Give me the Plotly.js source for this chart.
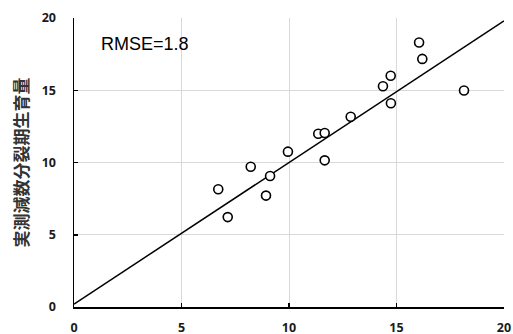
<!DOCTYPE html>
<html>
<head>
<meta charset="utf-8">
<script src="https://cdn.plot.ly/plotly-3.0.1.min.js"></script>
<style>html,body{margin:0;padding:0;background:#fff;}#chart{width:513px;height:334px;}</style>
</head>
<body>
<div id="chart"></div>
<script>
// Predicted (x) vs observed (y) growth at meiosis stage
const predicted = [16.05, 16.2, 14.73, 14.37, 18.14, 14.74, 12.87, 11.36, 11.66, 9.95, 11.66, 8.22, 9.12, 8.93, 6.71, 7.15];
const observed  = [18.3, 17.17, 16.0, 15.28, 14.98, 14.1, 13.17, 11.99, 12.04, 10.75, 10.15, 9.71, 9.07, 7.71, 8.15, 6.22];
const fitX = [0, 20];
const fitY = [0.2, 19.8];
const tickVals = [0, 5, 10, 15, 20];
const tickText = ['0', '5', '10', '15', '20'];
const yTitle = '実測減数分裂期生育量';
const rmseText = 'RMSE=1.8';

const tickFont = {family: '"Noto Sans", "Liberation Sans", sans-serif', size: 12.5, color: '#1a1a1a', weight: 'bold'};

const traces = [
  {x: fitX, y: fitY, mode: 'lines', type: 'scatter', line: {color: '#000', width: 1.5}, hoverinfo: 'skip'},
  {x: predicted, y: observed, mode: 'markers', type: 'scatter',
   marker: {symbol: 'circle', size: 9, color: '#fff', line: {color: '#000', width: 1.6}}}
];

const axisBase = {
  range: [0, 20], tickvals: tickVals, ticktext: tickText,
  showgrid: true, gridcolor: '#d9d9d9', gridwidth: 1,
  zeroline: false, showline: true, linecolor: '#000', linewidth: 1.5,
  ticks: 'inside', ticklen: 4, tickcolor: '#000', tickwidth: 1.5,
  tickfont: tickFont, fixedrange: true
};

const layout = {
  width: 513, height: 334,
  margin: {l: 74, r: 9, t: 18, b: 27},
  paper_bgcolor: '#fff', plot_bgcolor: '#fff',
  showlegend: false,
  xaxis: Object.assign({}, axisBase, {ticklabelstandoff: 8}),
  yaxis: Object.assign({}, axisBase, {ticklabelstandoff: 14}),
  annotations: [
    {text: rmseText, xref: 'x', yref: 'y', x: 1.15, y: 18.2, xanchor: 'left', yanchor: 'middle',
     showarrow: false, font: {family: '"Liberation Sans", Arial, sans-serif', size: 18, color: '#000'}},
    {text: yTitle, xref: 'paper', yref: 'paper', x: 0, y: 0.5, xanchor: 'center', yanchor: 'middle',
     xshift: -54, textangle: -90, showarrow: false,
     font: {family: '"Noto Sans CJK JP", sans-serif', size: 17, color: '#333333', weight: 'bold'}}
  ]
};

Plotly.newPlot('chart', traces, layout, {staticPlot: true, displayModeBar: false});
</script>
</body>
</html>
